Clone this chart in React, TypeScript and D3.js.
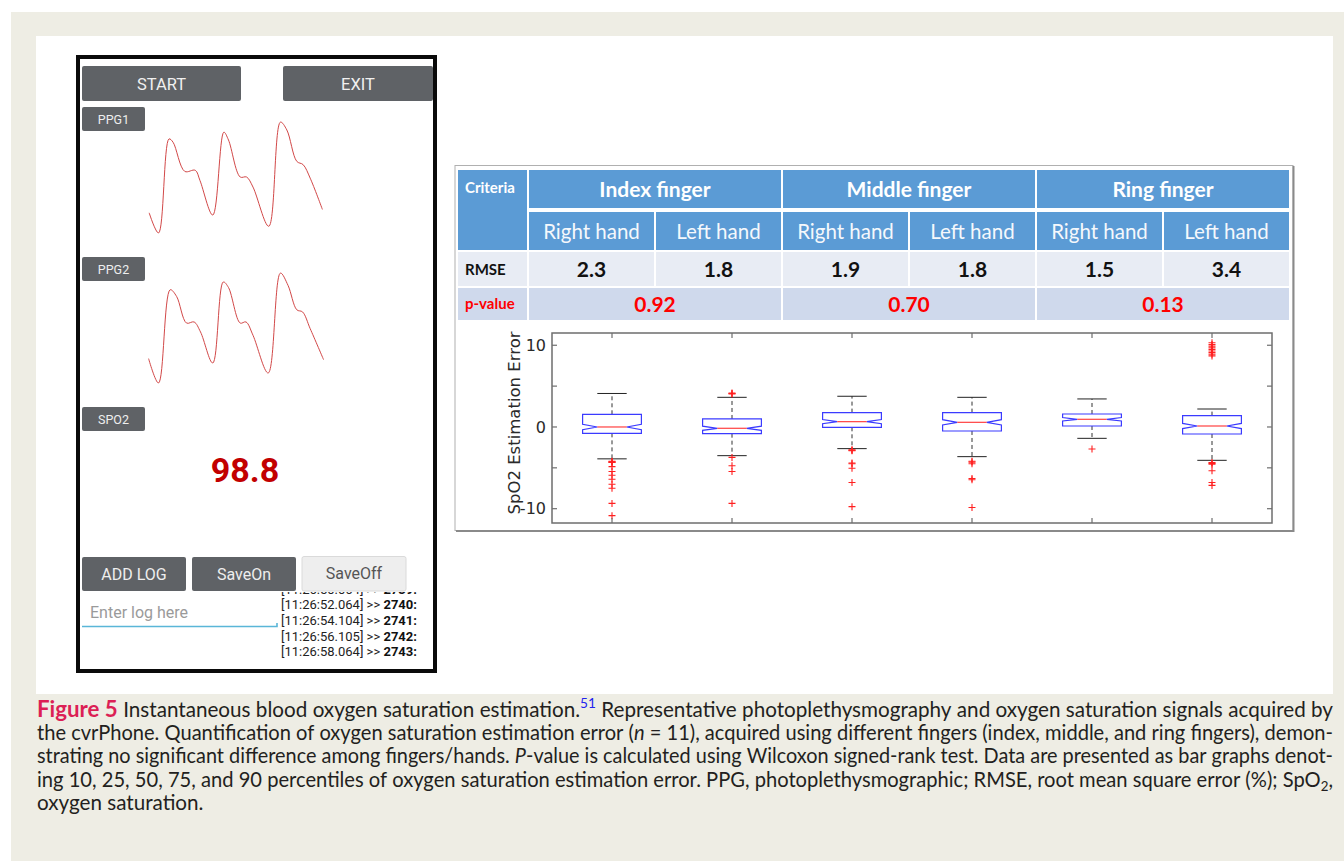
import React, { useMemo } from 'react';
import * as d3 from 'd3';

const W = 1344;
const H = 861;

// ---------- phone screen: PPG traces (time in s, normalised amplitude) ----------
const ppg1Time = [0.02, 0.18, 0.36, 0.43, 0.63, 0.81, 0.89, 1.11, 1.3, 1.38, 1.58, 1.69, 1.8, 2.07, 2.27, 2.38, 2.55, 2.66, 2.78, 2.99];
const ppg1Amp = [0.18, 0.0, 0.84, 0.81, 0.55, 0.56, 0.47, 0.16, 0.9, 0.83, 0.5, 0.5, 0.41, 0.06, 0.99, 0.92, 0.64, 0.61, 0.49, 0.21];
const ppg2Time = [0.01, 0.18, 0.38, 0.49, 0.66, 0.79, 0.9, 1.11, 1.29, 1.38, 1.58, 1.68, 1.8, 2.06, 2.27, 2.4, 2.55, 2.65, 2.78, 3.01];
const ppg2Amp = [0.22, 0.0, 0.84, 0.78, 0.54, 0.55, 0.46, 0.18, 0.91, 0.86, 0.54, 0.55, 0.43, 0.09, 0.99, 0.88, 0.66, 0.64, 0.49, 0.21];
const spo2Reading = 98.8;
const logTimes = ['11:26:50.064', '11:26:52.064', '11:26:54.104', '11:26:56.105', '11:26:58.064'];
const logIds = [2739, 2740, 2741, 2742, 2743];

// ---------- table ----------
const fingers = ['Index finger', 'Middle finger', 'Ring finger'];
const hands = ['Right hand', 'Left hand'];
const rmse = [2.3, 1.8, 1.9, 1.8, 1.5, 3.4];
const pValues = [0.92, 0.7, 0.13];

// ---------- box plot (SpO2 estimation error, %) ----------
const whiskerHigh = [4.1, 3.63, 3.76, 3.63, 3.43, 2.2];
const q3 = [1.55, 0.98, 1.76, 1.76, 1.59, 1.39];
const median = [0.0, -0.16, 0.65, 0.57, 0.94, 0.12];
const q1 = [-0.78, -0.82, -0.04, -0.49, 0.12, -0.86];
const whiskerLow = [-3.9, -3.51, -2.65, -3.63, -1.39, -4.08];
const outliers = [
  [-4.2, -4.25, -4.3, -4.35, -4.85, -5.45, -5.9, -6.4, -7.0, -7.5, -9.35, -10.85],
  [4.05, 4.1, 4.15, -3.72, -4.75, -5.45, -9.35],
  [-2.8, -2.85, -2.9, -4.4, -4.5, -5.05, -6.8, -9.75],
  [-4.2, -4.3, -4.5, -6.3, -6.45, -9.85],
  [-2.7],
  [10.3, 10.1, 9.9, 9.7, 9.5, 9.3, 9.1, 8.9, 8.7, -4.35, -4.45, -4.55, -5.35, -6.8, -7.15],
];
const samplesPerBox = 121;
const yTicks = [-10, -5, 0, 5, 10];
const yTickLabels = [-10, 0, 10];

// ---------- caption ----------
const captionLines = [
  '{fig:Figure} {fig:5} Instantaneous blood oxygen saturation estimation.{sup:51} Representative photoplethysmography and oxygen saturation signals acquired by',
  'the cvrPhone. Quantification of oxygen saturation estimation error ({i:n}\u00a0=\u00a011), acquired using different fingers (index, middle, and ring fingers), demon-',
  'strating no significant difference among fingers/hands. {i:P}-value is calculated using Wilcoxon signed-rank test. Data are presented as bar graphs denot-',
  'ing 10, 25, 50, 75, and 90 percentiles of oxygen saturation estimation error. PPG, photoplethysmographic; RMSE, root mean square error (%); SpO{sub:2},',
  'oxygen saturation.',
];

const PHONE_FONT = 'Roboto, sans-serif';
const TABLE_FONT = 'Lato, sans-serif';
const CAPTION_FONT = 'Lato';
const AXIS_FONT = '"DejaVu Sans", sans-serif';

type Piece = { text: string; style: string };

function parseWord(w: string): Piece[] {
  const out: Piece[] = [];
  const re = /\{(\w+):([^}]*)\}|([^{]+)/g;
  let m: RegExpExecArray | null;
  while ((m = re.exec(w))) {
    if (m[1]) out.push({ text: m[2], style: m[1] });
    else out.push({ text: m[3], style: 'n' });
  }
  return out;
}

function styleAttrs(style: string, f: number) {
  switch (style) {
    case 'fig':
      return { size: f * 1.08, weight: 'bold', italic: false };
    case 'i':
      return { size: f, weight: 'normal', italic: true };
    case 'sup':
    case 'sub':
      return { size: f * 0.66, weight: 'normal', italic: false };
    default:
      return { size: f, weight: 'normal', italic: false };
  }
}

// Measures text with the same SVG text engine used for drawing.
function makeMeasurer() {
  const ns = 'http://www.w3.org/2000/svg';
  const svg = document.createElementNS(ns, 'svg');
  svg.setAttribute('width', '10');
  svg.setAttribute('height', '10');
  svg.style.position = 'absolute';
  svg.style.visibility = 'hidden';
  const t = document.createElementNS(ns, 'text');
  t.setAttribute('font-family', CAPTION_FONT);
  svg.appendChild(t);
  document.body.appendChild(svg);
  const measure = (text: string, style: string, f: number) => {
    const a = styleAttrs(style, f);
    t.setAttribute('font-size', String(a.size));
    t.setAttribute('font-weight', a.weight);
    t.setAttribute('font-style', a.italic ? 'italic' : 'normal');
    t.textContent = text;
    return t.getComputedTextLength();
  };
  const done = () => svg.remove();
  return { measure, done };
}

// The first line sets the type size; longer lines are condensed, shorter ones justified.
function layoutCaption(left: number, right: number) {
  const { measure, done } = makeMeasurer();
  const words = captionLines.map((l) => l.split(' ').map(parseWord));
  const target = right - left;
  const spaceAt = (f: number) => measure('a a', 'n', f) - measure('aa', 'n', f);
  const naturalAt = (ln: Piece[][], f: number) =>
    d3.sum(ln, (w) => d3.sum(w, (p) => measure(p.text, p.style, f))) + (ln.length - 1) * spaceAt(f);
  const base = 18;
  const fs = (base * target) / naturalAt(words[0], base);
  const spaceW = spaceAt(fs);
  const lines = words.map((ln, li) => {
    const widths = ln.map((w) => w.map((p) => measure(p.text, p.style, fs)));
    const sum = d3.sum(widths, (ws) => d3.sum(ws));
    const natural = sum + (ln.length - 1) * spaceW;
    const justify = li < words.length - 1;
    let gap = spaceW;
    let scale = 1;
    if (justify) {
      if (natural > target) scale = target / natural;
      else gap = (target - sum) / (ln.length - 1);
    }
    let x = left;
    const placed: { x: number; p: Piece }[] = [];
    ln.forEach((w, wi) => {
      w.forEach((p, pi) => {
        placed.push({ x, p });
        x += widths[wi][pi];
      });
      x += gap;
    });
    return { placed, scale };
  });
  done();
  return { fs, lines };
}

function Phone() {
  const xT = d3.scaleLinear().domain([0, 3]).range([148, 323]);
  const y1 = d3.scaleLinear().domain([0, 1]).range([233, 121]);
  const y2 = d3.scaleLinear().domain([0, 1]).range([383, 272]);
  const line1 = d3
    .line<number>()
    .x((_, i) => xT(ppg1Time[i]))
    .y((d) => y1(d))
    .curve(d3.curveCatmullRom.alpha(0.5))(ppg1Amp);
  const line2 = d3
    .line<number>()
    .x((_, i) => xT(ppg2Time[i]))
    .y((d) => y2(d))
    .curve(d3.curveCatmullRom.alpha(0.5))(ppg2Amp);
  const btn = '#5f6266';
  const labelBox = (y: number, t: string) => (
    <g>
      <rect x={82} y={y} width={63} height={24} rx={2} fill={btn} />
      <text x={113.5} y={y + 16.5} textAnchor="middle" fontSize={12.5} fill="#eeeeee" fontFamily={PHONE_FONT}>
        {t}
      </text>
    </g>
  );
  const logY = d3.scaleLinear().domain([0, 1]).range([593.6, 609.3]);
  return (
    <g>
      <rect x={78} y={57} width={357} height={614} fill="#ffffff" />
      <rect x={82} y={66} width={159} height={35} rx={2} fill={btn} />
      <text x={161.5} y={89.5} textAnchor="middle" fontSize={16.5} fill="#f0f0f0" fontFamily={PHONE_FONT}>
        START
      </text>
      <rect x={283} y={66} width={150} height={35} rx={2} fill={btn} />
      <text x={358} y={89.5} textAnchor="middle" fontSize={16.5} fill="#f0f0f0" fontFamily={PHONE_FONT}>
        EXIT
      </text>
      {labelBox(107, 'PPG1')}
      {labelBox(257, 'PPG2')}
      {labelBox(407, 'SPO2')}
      <path d={line1 || ''} fill="none" stroke="#d24848" strokeWidth={1} strokeLinejoin="round" />
      <path d={line2 || ''} fill="none" stroke="#d24848" strokeWidth={1} strokeLinejoin="round" />
      <text x={245} y={482} textAnchor="middle" fontSize={34} fontWeight="bold" fill="#c20000" fontFamily={PHONE_FONT}>
        {d3.format('.1f')(spo2Reading)}
      </text>
      <rect x={82} y={557} width={104} height={34} rx={2} fill={btn} />
      <text x={134} y={580} textAnchor="middle" fontSize={16} fill="#eeeeee" fontFamily={PHONE_FONT}>
        ADD LOG
      </text>
      <rect x={192} y={557} width={104} height={34} rx={2} fill={btn} />
      <text x={244} y={580} textAnchor="middle" fontSize={16} fill="#eeeeee" fontFamily={PHONE_FONT}>
        SaveOn
      </text>
      <rect x={302} y={556.5} width={104} height={34.5} rx={2} fill="#eeeeee" stroke="#dadada" strokeWidth={1} />
      <text x={354} y={579} textAnchor="middle" fontSize={16} fill="#555555" fontFamily={PHONE_FONT}>
        SaveOff
      </text>
      <text x={90} y={618} fontSize={16} fill="#9a9a9a" fontFamily={PHONE_FONT}>
        Enter log here
      </text>
      <path d="M82,626.5 H277 V623" fill="none" stroke="#5ab6d8" strokeWidth={1.6} />
      <defs>
        <clipPath id="logClip">
          <rect x={278} y={592} width={156} height={75} />
        </clipPath>
      </defs>
      <g clipPath="url(#logClip)" fontFamily={PHONE_FONT} fontSize={13} fill="#222222">
        {logTimes.map((t, i) => (
          <text key={t} x={281} y={logY(i)}>
            {`[${t}] >> `}
            <tspan fontWeight="bold" fill="#111111">{`${logIds[i]}:`}</tspan>
          </text>
        ))}
      </g>
      <rect x={78} y={57} width={357} height={614} fill="none" stroke="#0a0a0a" strokeWidth={4} />
    </g>
  );
}

function Table() {
  const left = 458;
  const critRight = 527;
  const col = d3.scaleBand<number>().domain(d3.range(6)).range([529, 1291]);
  const grp = d3.scaleBand<number>().domain(d3.range(3)).range([529, 1291]);
  const rowY = [170, 212, 252, 288];
  const rowH = [38, 38, 34, 32];
  const head = '#5b9bd5';
  const rmseBg = '#e8ecf4';
  const pBg = '#cfd9ec';
  return (
    <g fontFamily={TABLE_FONT}>
      <rect x={455} y={165.5} width={838} height={365} fill="#ffffff" stroke="#b0b0b0" strokeWidth={1} />
      <path d="M456,531 H1293.5 V166" fill="none" stroke="#8a8a8a" strokeWidth={2} />
      {/* criteria column */}
      <rect x={left} y={rowY[0]} width={critRight - left} height={rowY[1] + rowH[1] - rowY[0]} fill={head} />
      <text x={465} y={193} fontSize={15} fontWeight="bold" fill="#ffffff">
        Criteria
      </text>
      <rect x={left} y={rowY[2]} width={critRight - left} height={rowH[2]} fill={rmseBg} />
      <text x={465} y={274.5} fontSize={15} fontWeight="bold" fill="#111111">
        RMSE
      </text>
      <rect x={left} y={rowY[3]} width={critRight - left} height={rowH[3]} fill={pBg} />
      <text x={465} y={309} fontSize={15} fontWeight="bold" fill="#ff0000">
        p-value
      </text>
      {/* finger groups */}
      {fingers.map((f, g) => (
        <g key={f}>
          <rect x={grp(g)!} y={rowY[0]} width={grp.bandwidth() - 2} height={rowH[0]} fill={head} />
          <text
            x={grp(g)! + grp.bandwidth() / 2 - 1}
            y={rowY[0] + 27}
            textAnchor="middle"
            fontSize={21}
            fontWeight="bold"
            fill="#ffffff"
          >
            {f}
          </text>
          <rect x={grp(g)!} y={rowY[3]} width={grp.bandwidth() - 2} height={rowH[3]} fill={pBg} />
          <text
            x={grp(g)! + grp.bandwidth() / 2 - 1}
            y={rowY[3] + 23.5}
            textAnchor="middle"
            fontSize={21}
            fontWeight="bold"
            fill="#ff0000"
          >
            {d3.format('.2f')(pValues[g])}
          </text>
        </g>
      ))}
      {/* hand sub-columns */}
      {rmse.map((v, i) => (
        <g key={i}>
          <rect x={col(i)!} y={rowY[1]} width={col.bandwidth() - 2} height={rowH[1]} fill={head} />
          <text x={col(i)! + col.bandwidth() / 2 - 1} y={rowY[1] + 27} textAnchor="middle" fontSize={20.5} fill="#f5f8fc">
            {hands[i % 2]}
          </text>
          <rect x={col(i)!} y={rowY[2]} width={col.bandwidth() - 2} height={rowH[2]} fill={rmseBg} />
          <text
            x={col(i)! + col.bandwidth() / 2 - 1}
            y={rowY[2] + 25}
            textAnchor="middle"
            fontSize={21}
            fontWeight="bold"
            fill="#111111"
          >
            {d3.format('.1f')(v)}
          </text>
        </g>
      ))}
    </g>
  );
}

function BoxChart() {
  const x0 = 552;
  const x1 = 1272;
  const yTop = 333;
  const yBot = 523;
  const x = d3.scaleBand<number>().domain(d3.range(6)).range([x0, x1]);
  const y = d3.scaleLinear().domain([-11.75, 11.5]).range([yBot, yTop]);
  const half = x.bandwidth() * 0.245;
  const axis = '#6e6e6e';
  return (
    <g>
      {median.map((m, i) => {
        const cx = x(i)! + x.bandwidth() / 2;
        const nh = (1.57 * (q3[i] - q1[i])) / Math.sqrt(samplesPerBox);
        const pts: [number, number][] = [
          [cx - half, y(q1[i])],
          [cx - half, y(m - nh)],
          [cx - half / 2, y(m)],
          [cx - half, y(m + nh)],
          [cx - half, y(q3[i])],
          [cx + half, y(q3[i])],
          [cx + half, y(m + nh)],
          [cx + half / 2, y(m)],
          [cx + half, y(m - nh)],
          [cx + half, y(q1[i])],
        ];
        return (
          <g key={i}>
            <line x1={cx} x2={cx} y1={y(q3[i])} y2={y(whiskerHigh[i])} stroke="#333" strokeDasharray="4,3" />
            <line x1={cx} x2={cx} y1={y(q1[i])} y2={y(whiskerLow[i])} stroke="#333" strokeDasharray="4,3" />
            <line x1={cx - half / 2} x2={cx + half / 2} y1={y(whiskerHigh[i])} y2={y(whiskerHigh[i])} stroke="#222" />
            <line x1={cx - half / 2} x2={cx + half / 2} y1={y(whiskerLow[i])} y2={y(whiskerLow[i])} stroke="#222" />
            <polygon points={pts.map((p) => p.join(',')).join(' ')} fill="none" stroke="#3b3bff" strokeWidth={1.2} />
            <line x1={cx - half / 2} x2={cx + half / 2} y1={y(m)} y2={y(m)} stroke="#ff4040" strokeWidth={1.2} />
            {outliers[i].map((o, k) => (
              <path
                key={k}
                d={`M${cx - 3.5},${y(o)}H${cx + 3.5}M${cx},${y(o) - 3.5}V${y(o) + 3.5}`}
                stroke="#ff2020"
                strokeWidth={1.1}
                fill="none"
              />
            ))}
          </g>
        );
      })}
      <rect x={x0} y={yTop} width={x1 - x0} height={yBot - yTop} fill="none" stroke={axis} strokeWidth={1.5} />
      {yTicks.map((t) => (
        <g key={t}>
          <line x1={x0} x2={x0 + 5} y1={y(t)} y2={y(t)} stroke={axis} strokeWidth={1.2} />
          <line x1={x1 - 5} x2={x1} y1={y(t)} y2={y(t)} stroke={axis} strokeWidth={1.2} />
        </g>
      ))}
      {d3.range(6).map((i) => {
        const cx = x(i)! + x.bandwidth() / 2;
        return (
          <g key={i}>
            <line x1={cx} x2={cx} y1={yTop} y2={yTop + 5} stroke={axis} strokeWidth={1.2} />
            <line x1={cx} x2={cx} y1={yBot - 5} y2={yBot} stroke={axis} strokeWidth={1.2} />
          </g>
        );
      })}
      {yTickLabels.map((t) => (
        <text key={t} x={x0 - 6} y={y(t)} dy="0.36em" textAnchor="end" fontSize={16} fill="#2a2a2a" fontFamily={AXIS_FONT}>
          {t}
        </text>
      ))}
      <text
        transform={`translate(514,${(yTop + yBot) / 2 - 5}) rotate(-90)`}
        textAnchor="middle"
        dy="0.36em"
        fontSize={16.5}
        fill="#2a2a2a"
        fontFamily={AXIS_FONT}
      >
        SpO2 Estimation Error
      </text>
    </g>
  );
}

function Caption() {
  const left = 37;
  const { fs, lines } = useMemo(() => layoutCaption(left, 1333), []);
  const base = 716.5;
  const step = 23.4;
  return (
    <g fontFamily={CAPTION_FONT} fill="#231f20">
      {lines.map(({ placed, scale }, li) => {
        const yb = base + li * step;
        return (
          <text
            key={li}
            fontSize={fs}
            transform={scale < 1 ? `translate(${left},0) scale(${scale},1) translate(${-left},0)` : undefined}
          >
            {placed.map(({ x, p }, k) => {
              if (p.style === 'fig')
                return (
                  <tspan key={k} x={x} y={yb} fontWeight="bold" fontSize={fs * 1.08} fill="#dc1f55">
                    {p.text}
                  </tspan>
                );
              if (p.style === 'sup')
                return (
                  <tspan key={k} x={x} y={yb - fs * 0.42} fontSize={fs * 0.66} fill="#2323ee">
                    {p.text}
                  </tspan>
                );
              if (p.style === 'sub')
                return (
                  <tspan key={k} x={x} y={yb + fs * 0.22} fontSize={fs * 0.66}>
                    {p.text}
                  </tspan>
                );
              if (p.style === 'i')
                return (
                  <tspan key={k} x={x} y={yb} fontStyle="italic">
                    {p.text}
                  </tspan>
                );
              return (
                <tspan key={k} x={x} y={yb}>
                  {p.text}
                </tspan>
              );
            })}
          </text>
        );
      })}
    </g>
  );
}

export default function App() {
  return (
    <svg width={W} height={H} viewBox={`0 0 ${W} ${H}`} style={{ position: 'absolute', left: 0, top: 0, display: 'block' }}>
      <rect width={W} height={H} fill="#ffffff" />
      <rect x={11} y={12} width={W - 11} height={H - 12} fill="#eeede4" />
      <rect x={36} y={36} width={1297} height={658} fill="#ffffff" />
      <Phone />
      <Table />
      <BoxChart />
      <Caption />
    </svg>
  );
}
